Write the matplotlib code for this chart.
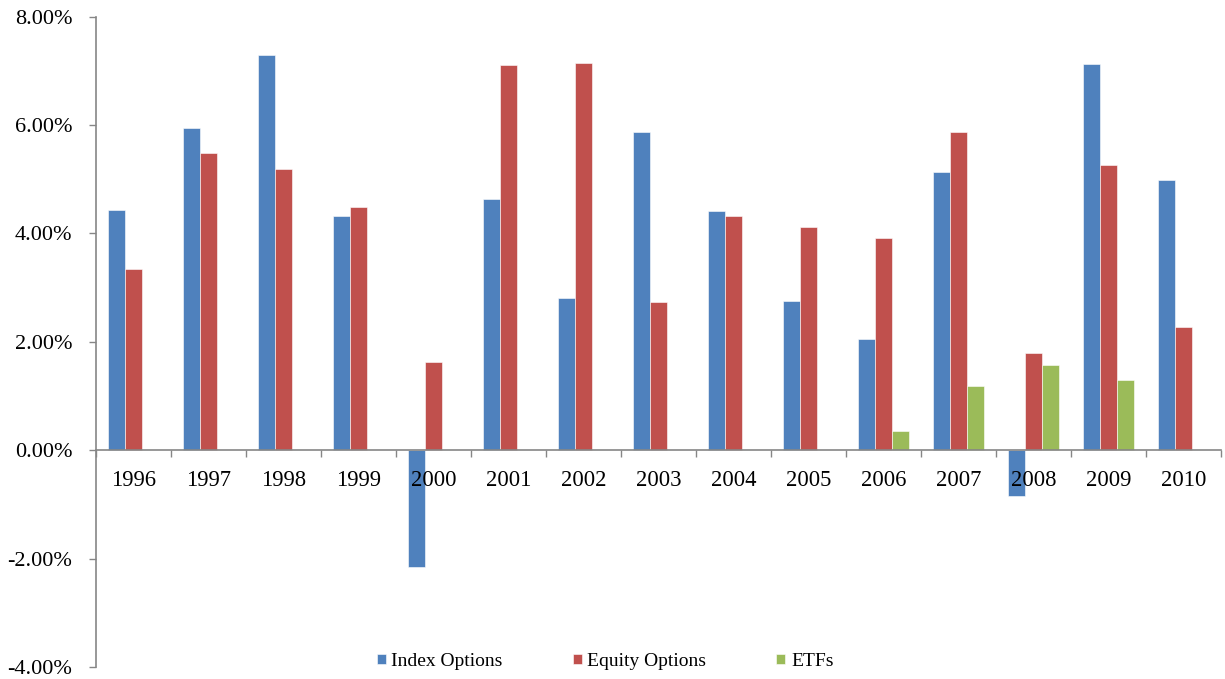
import numpy as np
import matplotlib
matplotlib.use("Agg")
import matplotlib.pyplot as plt
from matplotlib.ticker import FuncFormatter, FixedLocator

years = ["1996", "1997", "1998", "1999", "2000", "2001", "2002", "2003",
         "2004", "2005", "2006", "2007", "2008", "2009", "2010"]
index_options = [4.43, 5.94, 7.29, 4.33, -2.15, 4.64, 2.81, 5.87,
                 4.42, 2.76, 2.05, 5.14, -0.85, 7.13, 4.98]
equity_options = [3.35, 5.48, 5.19, 4.49, 1.63, 7.10, 7.15, 2.73,
                  4.33, 4.12, 3.91, 5.87, 1.79, 5.27, 2.28]
etfs = [0, 0, 0, 0, 0, 0, 0, 0, 0, 0, 0.35, 1.19, 1.58, 1.29, 0.0]

series_names = ["Index Options", "Equity Options", "ETFs"]
colors = ["#4F81BD", "#C0504D", "#9BBB59"]

plt.rcParams['font.family'] = ['Liberation Serif', 'DejaVu Serif']

fig = plt.figure(figsize=(12.25, 6.79), dpi=100)
ax = fig.add_axes([96 / 1225, 1 - 667 / 679, 1125 / 1225, (667 - 16.7) / 679])

x = np.arange(len(years))
w = 0.227
for i, (vals, name) in enumerate(zip([index_options, equity_options, etfs], series_names)):
    ax.bar(x + (i - 1) * w, vals, width=w, color=colors[i], label=name,
           edgecolor="white", linewidth=0.4)

ax.set_xlim(-0.5, len(years) - 0.5)
ax.set_ylim(-4, 8)
ax.set_yticks(np.arange(-4, 8.1, 2))
ax.yaxis.set_major_formatter(FuncFormatter(lambda v, p: "{:.2f}%".format(v)))

# category axis crosses at zero, tick marks between categories
ax.spines['bottom'].set_position(('data', 0))
ax.spines['top'].set_visible(False)
ax.spines['right'].set_visible(False)
for s in ['bottom', 'left']:
    ax.spines[s].set_color("#868686")
    ax.spines[s].set_linewidth(1.2)

ax.xaxis.set_major_locator(FixedLocator(np.arange(-0.5, len(years), 1.0)))
ax.xaxis.set_major_formatter(FuncFormatter(lambda v, p: ""))
ax.xaxis.set_minor_locator(FixedLocator(x))
ax.set_xticks(x, years, minor=True)
ax.tick_params(axis='x', which='major', direction='out', length=5, color="#868686", width=1)
ax.tick_params(axis='x', which='minor', length=0, pad=14.5, labelsize=16.3)
ax.tick_params(axis='y', direction='out', length=5, color="#868686", width=1, pad=12, labelsize=16)

fig.legend(loc='center', bbox_to_anchor=(0.494, 0.0255), ncol=3, frameon=False,
           fontsize=14, handlelength=0.45, handleheight=0.45, handletextpad=0.3,
           columnspacing=3.6)

fig.savefig("out.png", dpi=100)
